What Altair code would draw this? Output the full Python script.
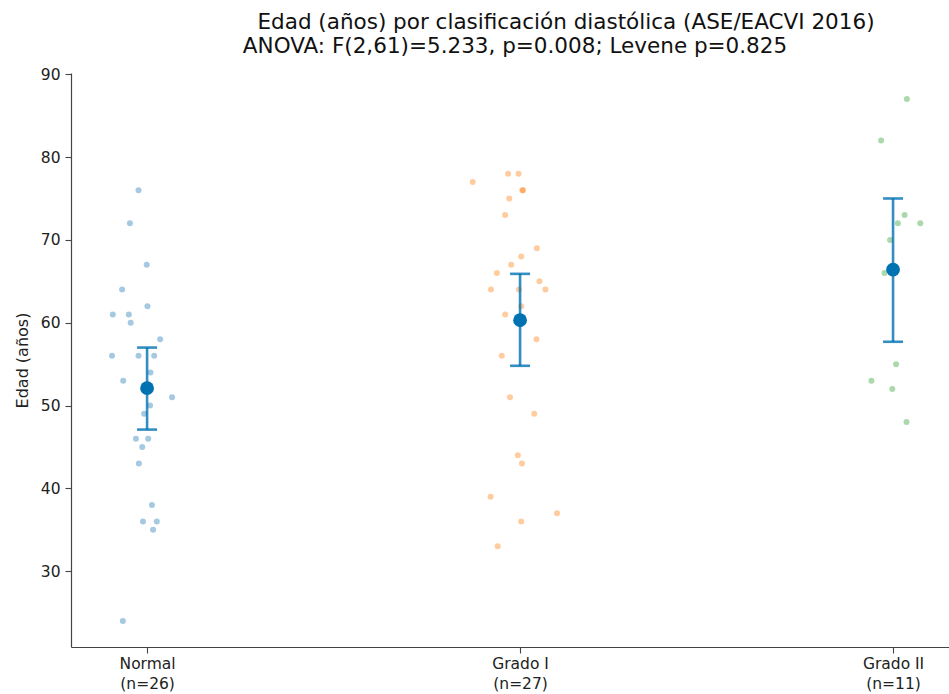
import json
import altair as alt
import pandas as pd

# ---- data ----
categories = ["Normal", "Grado I", "Grado II"]
counts = [26, 27, 11]
colors = ["#1f77b4", "#ff7f0e", "#2ca02c"]

normal_vals = [76, 72, 67, 64, 62, 61, 61, 60, 58, 56, 56, 56, 54, 53, 51, 50, 49,
               46, 46, 45, 43, 38, 36, 36, 35, 24]
normal_jit = [-0.023, -0.046, -0.001, -0.067, 0.001, -0.092, -0.049, -0.044, 0.035,
              -0.094, -0.023, 0.019, 0.009, -0.064, 0.067, 0.008, -0.008, -0.030,
              0.003, -0.013, -0.022, 0.013, -0.011, 0.026, 0.016, -0.065]
grado1_vals = [77, 78, 78, 76, 76, 75, 73, 69, 68, 67, 66, 65, 64, 64, 64, 62, 61,
               58, 56, 51, 49, 44, 43, 39, 37, 36, 33]
grado1_jit = [-0.127, -0.032, -0.004, 0.006, 0.008, -0.029, -0.040, 0.045, 0.003,
              -0.024, -0.062, 0.052, -0.078, -0.003, 0.068, 0.003, -0.040, 0.044,
              -0.049, -0.027, 0.038, -0.006, 0.005, -0.079, 0.099, 0.003, -0.060]
grado2_vals = [87, 82, 73, 72, 72, 70, 66, 55, 53, 52, 48]
grado2_jit = [0.037, -0.032, 0.031, 0.013, 0.073, -0.008, -0.023, 0.008, -0.058,
              -0.002, 0.036]

means = [52.1, 60.3, 66.4]
ci_low = [47.1, 54.8, 57.7]
ci_high = [57.0, 65.9, 75.0]

title_line1 = "Edad (años) por clasificación diastólica (ASE/EACVI 2016)"
title_line2 = "ANOVA: F(2,61)=5.233, p=0.008; Levene p=0.825"
y_title = "Edad (años)"

# ---- tables ----
rows = []
for i, (vals, jit) in enumerate([(normal_vals, normal_jit),
                                 (grado1_vals, grado1_jit),
                                 (grado2_vals, grado2_jit)]):
    for v, j in zip(vals, jit):
        rows.append({"grupo": categories[i], "pos": i + j, "edad": v})
points_df = pd.DataFrame(rows)

summary_df = pd.DataFrame({
    "grupo": categories,
    "pos": list(range(len(categories))),
    "media": means,
    "lo": ci_low,
    "hi": ci_high,
})

label_arrays = [[c, f"(n={n})"] for c, n in zip(categories, counts)]
label_expr = f"{json.dumps(label_arrays)}[datum.value]"

x_scale = alt.Scale(domain=[-0.204, 2.150], nice=False, zero=False)
y_scale = alt.Scale(domain=[20.85, 90.15], nice=False, zero=False)

FONT = "DejaVu Sans"

x_axis = alt.Axis(values=[0, 1, 2], labelExpr=label_expr, title=None, grid=False,
                  labelFont=FONT, labelFontSize=15.5, labelColor="#222",
                  labelBaseline="top", labelPadding=3, labelLineHeight=20,
                  tickSize=6, tickColor="#444", domainColor="#444",
                  domainWidth=1.2, tickWidth=1.1)
y_axis = alt.Axis(values=[30, 40, 50, 60, 70, 80, 90], title=y_title, grid=False,
                  labelFont=FONT, labelFontSize=15.5, labelColor="#222",
                  labelPadding=5, tickSize=6, tickColor="#444", domainColor="#444",
                  domainWidth=1.2, tickWidth=1.1, titleFont=FONT, titleFontSize=16,
                  titleFontWeight="normal", titleColor="#222", titlePadding=10)

pts = alt.Chart(points_df).mark_circle(size=36, opacity=0.4).encode(
    x=alt.X("pos:Q", scale=x_scale, axis=x_axis),
    y=alt.Y("edad:Q", scale=y_scale, axis=y_axis),
    color=alt.Color("grupo:N", scale=alt.Scale(domain=categories, range=colors),
                    legend=None),
)

base = alt.Chart(summary_df)
xs = alt.X("pos:Q", scale=x_scale, axis=x_axis)
err = base.mark_rule(color="#0072B2", strokeWidth=2.6, opacity=0.8).encode(
    x=xs,
    y=alt.Y("lo:Q", scale=y_scale, axis=y_axis),
    y2="hi:Q",
)
cap_lo = base.mark_tick(orient="horizontal", color="#0072B2", size=20,
                        thickness=2.6, opacity=0.8).encode(
    x=xs, y=alt.Y("lo:Q", scale=y_scale, axis=y_axis))
cap_hi = base.mark_tick(orient="horizontal", color="#0072B2", size=20,
                        thickness=2.6, opacity=0.8).encode(
    x=xs, y=alt.Y("hi:Q", scale=y_scale, axis=y_axis))
mean_pt = base.mark_circle(size=190, opacity=1, color="#0072B2").encode(
    x=xs, y=alt.Y("media:Q", scale=y_scale, axis=y_axis))

t1 = alt.Chart(pd.DataFrame({"t": [title_line1]})).mark_text(
    font=FONT, fontSize=21.5, color="#111", align="center", baseline="alphabetic"
).encode(text="t:N", x=alt.value(495), y=alt.value(-44))
t2 = alt.Chart(pd.DataFrame({"t": [title_line2]})).mark_text(
    font=FONT, fontSize=21.5, color="#111", align="center", baseline="alphabetic"
).encode(text="t:N", x=alt.value(444), y=alt.value(-20))

chart = alt.layer(pts, err, cap_lo, cap_hi, mean_pt, t1, t2).properties(
    width=878, height=574,
    background="white",
    autosize=alt.AutoSizeParams(type="none"),
    padding={"left": 71, "top": 73, "right": 0, "bottom": 47},
).configure_view(stroke="transparent", strokeWidth=0)

chart.save("out.html", embed_options={"renderer": "svg", "actions": False})
